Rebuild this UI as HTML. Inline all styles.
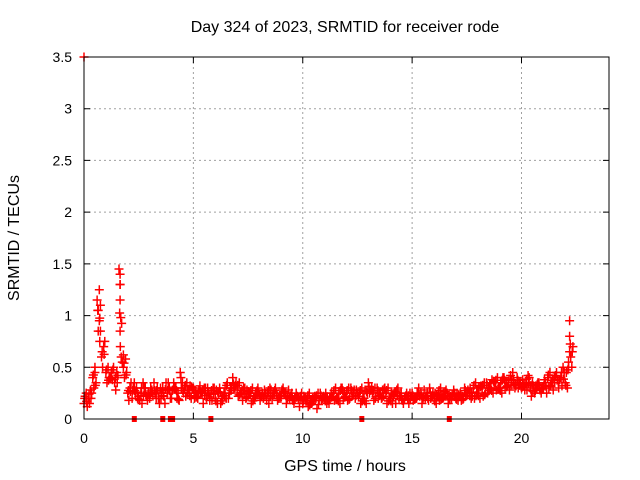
<!DOCTYPE html>
<html><head><meta charset="utf-8"><style>
body{margin:0;background:#fff}
svg{display:block;font-family:"Liberation Sans",Arial,sans-serif}
</style></head><body>
<svg id="chart" width="640" height="480" viewBox="0 0 640 480" xmlns="http://www.w3.org/2000/svg">
<rect width="640" height="480" fill="#fff"/>
<g id="grid"></g>
<g id="marks"></g>
<g id="axes"></g>
<text x="345" y="32" font-size="16" text-anchor="middle">Day 324 of 2023, SRMTID for receiver rode</text>
<text x="345" y="471" font-size="16" text-anchor="middle">GPS time / hours</text>
<text transform="translate(19,238) rotate(-90)" font-size="16" text-anchor="middle">SRMTID / TECUs</text>
</svg>
<script>
const xTicks=[0,5,10,15,20];
const yTicks=[0,0.5,1,1.5,2,2.5,3,3.5];
const yTickLabels=["0","0.5","1","1.5","2","2.5","3","3.5"];
const times=[0,0.2,0.4,0.6,0.8,1.0,1.2,1.4,1.6,1.8,2.0,2.2,2.4,2.6,2.8,3.0,3.2,3.4,3.6,3.8,4.0,4.2,4.4,4.6,4.8,5.0,5.2,5.4,5.6,5.8,6.0,6.2,6.4,6.6,6.8,7.0,7.2,7.4,7.6,7.8,8.0,8.2,8.4,8.6,8.8,9.0,9.2,9.4,9.6,9.8,10.0,10.2,10.4,10.6,10.8,11.0,11.2,11.4,11.6,11.8,12.0,12.2,12.4,12.6,12.8,13.0,13.2,13.4,13.6,13.8,14.0,14.2,14.4,14.6,14.8,15.0,15.2,15.4,15.6,15.8,16.0,16.2,16.4,16.6,16.8,17.0,17.2,17.4,17.6,17.8,18.0,18.2,18.4,18.6,18.8,19.0,19.2,19.4,19.6,19.8,20.0,20.2,20.4,20.6,20.8,21.0,21.2,21.4,21.6,21.8,22.0,22.2];
const vA=[0.15,0.2,0.4,1.15,0.6,0.45,0.4,0.35,1.45,0.5,0.25,0.2,0.3,0.25,0.3,0.2,0.35,0.2,0.3,0.25,0.2,0.3,0.45,0.3,0.25,0.3,0.2,0.25,0.2,0.25,0.2,0.3,0.25,0.2,0.4,0.3,0.25,0.2,0.25,0.2,0.25,0.2,0.25,0.2,0.25,0.2,0.25,0.2,0.15,0.2,0.15,0.2,0.15,0.2,0.25,0.2,0.15,0.25,0.2,0.3,0.25,0.3,0.2,0.25,0.2,0.35,0.25,0.3,0.2,0.25,0.2,0.25,0.2,0.15,0.2,0.25,0.2,0.25,0.2,0.3,0.2,0.25,0.2,0.25,0.2,0.2,0.25,0.3,0.25,0.3,0.25,0.3,0.35,0.3,0.35,0.3,0.4,0.35,0.45,0.4,0.3,0.35,0.3,0.25,0.35,0.3,0.4,0.35,0.45,0.4,0.35,0.95];
const vB=[0.22,0.15,0.3,0.85,0.5,0.35,0.45,0.28,1.3,0.4,0.18,0.3,0.2,0.15,0.22,0.3,0.25,0.15,0.22,0.35,0.28,0.2,0.3,0.22,0.32,0.2,0.28,0.15,0.3,0.18,0.28,0.15,0.3,0.25,0.3,0.22,0.18,0.28,0.15,0.25,0.18,0.28,0.15,0.25,0.18,0.28,0.15,0.22,0.2,0.12,0.22,0.12,0.2,0.1,0.18,0.25,0.2,0.18,0.25,0.2,0.18,0.22,0.28,0.15,0.28,0.25,0.18,0.2,0.28,0.15,0.25,0.15,0.22,0.2,0.15,0.18,0.25,0.15,0.22,0.2,0.25,0.18,0.25,0.15,0.22,0.25,0.18,0.22,0.3,0.2,0.3,0.22,0.25,0.38,0.28,0.35,0.3,0.28,0.35,0.3,0.38,0.28,0.22,0.32,0.28,0.38,0.3,0.28,0.38,0.32,0.45,0.6];
const vC=[0.25,0.28,0.45,0.95,0.7,0.5,0.38,0.45,0.6,0.58,0.3,0.35,0.22,0.35,0.18,0.28,0.2,0.3,0.15,0.3,0.35,0.25,0.35,0.35,0.2,0.25,0.32,0.3,0.25,0.3,0.15,0.22,0.2,0.3,0.28,0.35,0.3,0.22,0.3,0.25,0.22,0.25,0.3,0.25,0.2,0.3,0.2,0.25,0.25,0.22,0.2,0.25,0.18,0.25,0.2,0.15,0.25,0.3,0.15,0.25,0.3,0.25,0.25,0.3,0.15,0.28,0.3,0.25,0.22,0.3,0.15,0.28,0.25,0.22,0.25,0.2,0.3,0.2,0.25,0.22,0.15,0.3,0.22,0.2,0.28,0.18,0.22,0.25,0.2,0.35,0.2,0.35,0.3,0.25,0.4,0.25,0.35,0.42,0.3,0.35,0.32,0.42,0.35,0.3,0.25,0.35,0.45,0.4,0.3,0.5,0.3,0.5];
const vD=[0.12,0.25,0.35,1.1,0.75,0.4,0.5,0.42,0.55,0.45,0.35,0.25,0.18,0.3,0.25,0.22,0.3,0.25,0.35,0.2,0.3,0.18,0.25,0.28,0.3,0.22,0.25,0.3,0.18,0.3,0.25,0.2,0.35,0.3,0.35,0.25,0.3,0.25,0.2,0.3,0.25,0.18,0.28,0.3,0.22,0.25,0.28,0.18,0.22,0.25,0.18,0.15,0.22,0.18,0.22,0.18,0.22,0.2,0.3,0.22,0.2,0.28,0.22,0.2,0.25,0.3,0.22,0.25,0.3,0.2,0.22,0.3,0.18,0.25,0.22,0.2,0.22,0.28,0.18,0.25,0.22,0.2,0.28,0.22,0.25,0.22,0.2,0.28,0.22,0.25,0.32,0.25,0.3,0.35,0.3,0.4,0.32,0.38,0.32,0.35,0.28,0.4,0.32,0.35,0.3,0.25,0.35,0.42,0.38,0.45,0.5,0.7];
const extraT=[0,0.7,0.65,0.75,0.72,0.5,1.65,1.65,1.65,1.68,1.65,1.66,1.8,22.2,22.2,22.15];
const extraV=[3.5,1.25,1.05,0.85,0.75,0.5,1.4,1.3,1.15,0.98,0.85,0.7,0.62,0.8,0.65,0.55];
const zeroT=[2.3,3.6,3.95,4.05,5.8,12.7,16.7];
const NS="http://www.w3.org/2000/svg";
const X0=84,X1=609,Y0=419,Y1=57,XMAX=24,YMAX=3.5;
function sx(t){return X0+(X1-X0)*t/XMAX;}
function sy(v){return Y0-(Y0-Y1)*v/YMAX;}
function mk(tag,attrs,parent){const e=document.createElementNS(NS,tag);for(const k in attrs)e.setAttribute(k,attrs[k]);parent.appendChild(e);return e;}
const grid=document.getElementById('grid'),marks=document.getElementById('marks'),axes=document.getElementById('axes');
xTicks.forEach(t=>{if(t>0){const l=mk('line',{x1:sx(t),x2:sx(t),y1:Y0,y2:Y1,stroke:'#a0a0a0','stroke-dasharray':'2,3'},grid);

}
const tk=mk('path',{d:`M${sx(t)},${Y0}v-6M${sx(t)},${Y1}v6`,stroke:'#000'},axes);


const tx=mk('text',{x:sx(t),y:Y0+24,'font-size':14,'text-anchor':'middle'},axes);tx.textContent=String(t);

});
yTicks.forEach((v,i)=>{if(v>0&&v<YMAX){const l=mk('line',{x1:X0,x2:X1,y1:sy(v),y2:sy(v),stroke:'#a0a0a0','stroke-dasharray':'2,3'},grid);

}
const tk=mk('path',{d:`M${X0},${sy(v)}h6M${X1},${sy(v)}h-6`,stroke:'#000'},axes);


const tx=mk('text',{x:X0-12,y:sy(v)+5,'font-size':14,'text-anchor':'end'},axes);tx.textContent=yTickLabels[i];

});
const fr=mk('rect',{x:X0,y:Y1,width:X1-X0,height:Y0-Y1,fill:'none',stroke:'#000'},axes);


function plus(t,v){const p=mk('path',{d:`M${sx(t)-4.5},${sy(v)}h9M${sx(t)},${sy(v)-4.5}v9`,stroke:'#f00','stroke-width':1.5},marks);

}
times.forEach((t,i)=>{plus(t,vA[i]);plus(t+0.05,vB[i]);plus(t+0.1,vC[i]);plus(t+0.15,vD[i]);plus(t+0.03,(vA[i]+vC[i])/2);plus(t+0.12,(vB[i]+vD[i])/2);});
extraT.forEach((t,i)=>plus(t,extraV[i]));
zeroT.forEach(t=>{const r=mk('rect',{x:sx(t)-2.5,y:Y0-3,width:5,height:6,fill:'#f00'},marks);

});
</script>
</body></html>
